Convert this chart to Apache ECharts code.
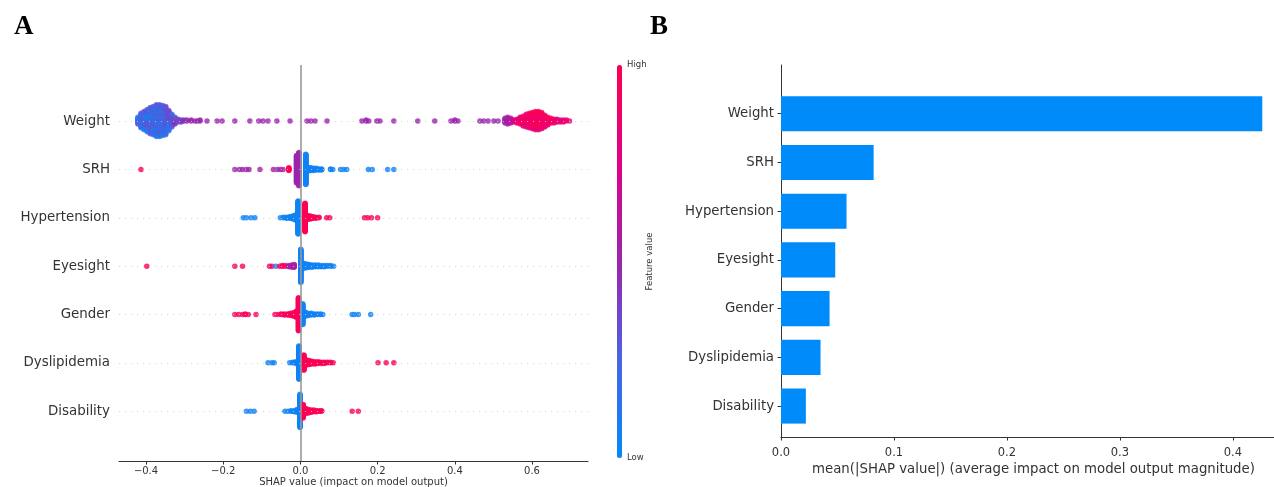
<!DOCTYPE html>
<html>
<head>
<meta charset="utf-8">
<script src="https://cdn.jsdelivr.net/npm/echarts@6/dist/echarts.min.js"></script>
<style>
  html, body { margin: 0; padding: 0; background: #fff; }
  #chart { width: 1274px; height: 487px; }
</style>
</head>
<body>
<div id="chart"></div>
<script>
// features, bottom to top
const features = ['Disability', 'Dyslipidemia', 'Gender', 'Eyesight', 'Hypertension', 'SRH', 'Weight'];
// panel B: mean(|SHAP value|)
const meanAbsShap = [0.022, 0.035, 0.043, 0.048, 0.058, 0.082, 0.426];
const shapTicks = [-0.4, -0.2, 0, 0.2, 0.4, 0.6];
const meanTicks = [0, 0.1, 0.2, 0.3, 0.4];

// panel A beeswarm: [SHAP value, feature value (0 low .. 1 high), number of dots]
const shapWeight = [
  [-0.421, 0.10, 4], [-0.421, 0.30, 4], [-0.413, 0.10, 8], [-0.413, 0.30, 8],
  [-0.405, 0.10, 10], [-0.405, 0.30, 10], [-0.397, 0.10, 12], [-0.397, 0.30, 12],
  [-0.389, 0.10, 14], [-0.389, 0.30, 14], [-0.381, 0.10, 15], [-0.381, 0.30, 15],
  [-0.373, 0.10, 17], [-0.373, 0.30, 17], [-0.365, 0.10, 17], [-0.365, 0.30, 17],
  [-0.357, 0.10, 16], [-0.357, 0.30, 16], [-0.349, 0.15, 15], [-0.349, 0.35, 15],
  [-0.341, 0.15, 11], [-0.341, 0.35, 11], [-0.333, 0.20, 7], [-0.333, 0.40, 7],
  [-0.325, 0.30, 4], [-0.325, 0.45, 4], [-0.317, 0.35, 4],
  [-0.309, 0.40, 3], [-0.302, 0.45, 2], [-0.294, 0.45, 2], [-0.283, 0.5, 2], [-0.273, 0.5, 1],
  [-0.267, 0.5, 1], [-0.260, 0.5, 2], [-0.242, 0.5, 1], [-0.216, 0.5, 1], [-0.203, 0.5, 1],
  [-0.170, 0.5, 1], [-0.131, 0.5, 1], [-0.108, 0.5, 1], [-0.097, 0.5, 1], [-0.084, 0.5, 1],
  [-0.061, 0.5, 1], [-0.027, 0.5, 1], [0.017, 0.5, 1], [0.027, 0.5, 1], [0.038, 0.5, 1],
  [0.069, 0.5, 1], [0.159, 0.5, 1], [0.170, 0.5, 2], [0.177, 0.5, 1], [0.198, 0.5, 1],
  [0.206, 0.5, 1], [0.242, 0.5, 1], [0.304, 0.5, 1], [0.348, 0.5, 1], [0.390, 0.5, 1],
  [0.400, 0.5, 2], [0.408, 0.5, 1], [0.465, 0.5, 1], [0.475, 0.5, 1], [0.486, 0.5, 1],
  [0.501, 0.5, 1], [0.512, 0.5, 1],
  [0.530, 0.50, 6], [0.537, 0.55, 8], [0.545, 0.60, 6], [0.553, 0.70, 3],
  [0.561, 0.75, 3], [0.561, 0.92, 2], [0.569, 0.78, 4], [0.569, 0.95, 4],
  [0.577, 0.80, 6], [0.577, 0.95, 5], [0.585, 0.80, 7], [0.585, 0.97, 7],
  [0.593, 0.82, 8], [0.593, 0.97, 8], [0.601, 0.82, 9], [0.601, 1.0, 9],
  [0.609, 0.82, 10], [0.609, 1.0, 10], [0.617, 0.82, 10], [0.617, 1.0, 10],
  [0.625, 0.82, 9], [0.625, 1.0, 9], [0.633, 0.82, 7], [0.633, 1.0, 6],
  [0.641, 0.82, 5], [0.641, 1.0, 4], [0.649, 0.82, 3], [0.649, 1.0, 3],
  [0.657, 0.82, 3], [0.657, 1.0, 2], [0.665, 0.82, 4], [0.673, 0.82, 3],
  [0.681, 0.85, 3], [0.689, 0.85, 2], [0.697, 0.85, 1]
];
const shapSRH = [
  [-0.413, 0.95, 1],
  [-0.170, 0.5, 1], [-0.158, 0.5, 1], [-0.150, 0.5, 1], [-0.140, 0.5, 1], [-0.133, 0.55, 1], [-0.105, 0.55, 1],
  [-0.070, 0.55, 1], [-0.060, 0.5, 1], [-0.052, 0.5, 1], [-0.045, 0.6, 1],
  [-0.030, 1.0, 6],
  [-0.010, 0.5, 50], [-0.004, 0.5, 60],
  [0.014, 0.05, 55],
  [0.020, 0.05, 8], [0.027, 0.05, 6], [0.034, 0.05, 5], [0.041, 0.05, 4], [0.048, 0.05, 3], [0.055, 0.05, 3],
  [0.078, 0.05, 2], [0.084, 0.05, 1], [0.104, 0.05, 1], [0.112, 0.05, 1], [0.120, 0.05, 1],
  [0.176, 0.05, 1], [0.186, 0.05, 1], [0.226, 0.05, 1], [0.242, 0.05, 1]
];
const shapHypertension = [
  [-0.148, 0.05, 1], [-0.140, 0.05, 1], [-0.128, 0.05, 1], [-0.118, 0.05, 1],
  [-0.052, 0.05, 1], [-0.044, 0.05, 2], [-0.036, 0.05, 3], [-0.028, 0.05, 4], [-0.020, 0.05, 6], [-0.013, 0.05, 10],
  [-0.006, 0.05, 60],
  [0.012, 0.98, 52],
  [0.019, 0.98, 8], [0.026, 0.98, 6], [0.033, 0.98, 4], [0.040, 0.98, 3], [0.048, 0.98, 2],
  [0.068, 0.98, 1], [0.076, 0.98, 1],
  [0.166, 0.98, 1], [0.174, 0.98, 1], [0.184, 0.98, 1], [0.200, 0.98, 1]
];
const shapEyesight = [
  [-0.398, 1.0, 1],
  [-0.170, 0.95, 1], [-0.150, 0.95, 1],
  [-0.080, 0.95, 1], [-0.074, 0.9, 1], [-0.064, 0.1, 1],
  [-0.054, 0.95, 1], [-0.047, 0.95, 2], [-0.040, 0.95, 2],
  [-0.030, 0.55, 3], [-0.022, 0.55, 5], [-0.016, 0.55, 6],
  [0.001, 0.05, 60],
  [0.008, 0.05, 10], [0.015, 0.05, 8], [0.022, 0.05, 6], [0.030, 0.05, 5], [0.038, 0.05, 4],
  [0.046, 0.05, 4], [0.054, 0.05, 3], [0.062, 0.05, 3], [0.070, 0.05, 2], [0.078, 0.05, 2], [0.086, 0.05, 1]
];
const shapGender = [
  [-0.170, 0.95, 1], [-0.160, 0.95, 1], [-0.150, 0.95, 1], [-0.143, 0.95, 2], [-0.135, 0.95, 1], [-0.115, 0.95, 1],
  [-0.066, 0.95, 1], [-0.058, 0.95, 1], [-0.050, 0.95, 2], [-0.042, 0.95, 3], [-0.034, 0.95, 3],
  [-0.026, 0.95, 5], [-0.018, 0.95, 7], [-0.011, 0.95, 12],
  [-0.005, 0.95, 60],
  [0.006, 0.05, 38],
  [0.013, 0.05, 8], [0.020, 0.05, 5], [0.028, 0.05, 4], [0.036, 0.05, 3], [0.044, 0.05, 2], [0.052, 0.05, 2], [0.058, 0.05, 1],
  [0.134, 0.05, 1], [0.140, 0.05, 1], [0.150, 0.05, 1], [0.182, 0.05, 1]
];
const shapDyslipidemia = [
  [-0.084, 0.05, 1], [-0.074, 0.05, 1], [-0.068, 0.05, 1],
  [-0.028, 0.05, 1], [-0.020, 0.05, 2], [-0.012, 0.05, 4],
  [-0.004, 0.05, 60],
  [0.009, 0.98, 28],
  [0.016, 0.98, 10], [0.023, 0.98, 8], [0.030, 0.98, 6], [0.038, 0.98, 5], [0.046, 0.98, 4],
  [0.054, 0.98, 3], [0.062, 0.98, 3], [0.070, 0.98, 2], [0.078, 0.98, 2], [0.085, 0.98, 1],
  [0.201, 0.98, 1], [0.222, 0.98, 1], [0.242, 0.98, 1]
];
const shapDisability = [
  [-0.140, 0.05, 1], [-0.130, 0.05, 1], [-0.120, 0.05, 1],
  [-0.040, 0.05, 1], [-0.032, 0.05, 1], [-0.024, 0.05, 2], [-0.016, 0.05, 3], [-0.009, 0.05, 6],
  [-0.001, 0.05, 60],
  [0.007, 0.98, 25],
  [0.014, 0.98, 10], [0.021, 0.98, 7], [0.028, 0.98, 5], [0.035, 0.98, 4], [0.042, 0.98, 3],
  [0.049, 0.98, 2], [0.055, 0.98, 2],
  [0.134, 0.98, 1], [0.150, 0.98, 1]
];
const swarmRows = [shapDisability, shapDyslipidemia, shapGender, shapEyesight, shapHypertension, shapSRH, shapWeight];

const font = 'DejaVu Sans';
const axisColor = '#333333';

// stack dots sharing a SHAP value up and down around the row line (like shap's beeswarm)
function beeswarm(groups, row) {
  const stacks = new Map();
  groups.forEach(([v, f, n]) => {
    const key = v.toFixed(4);
    if (!stacks.has(key)) stacks.set(key, []);
    for (let k = 0; k < n; k++) stacks.get(key).push([v, f]);
  });
  let maxLayer = 0;
  const pts = [];
  stacks.forEach(list => {
    // mix colours inside one stack
    const order = list.map((p, k) => [(k * 7) % 11, k, p])
      .sort((a, b) => a[0] - b[0] || a[1] - b[1])
      .map(d => d[2]);
    order.forEach((p, layer) => {
      const off = Math.ceil(layer / 2) * (layer % 2 ? 1 : -1);
      maxLayer = Math.max(maxLayer, off);
      pts.push([p[0], off, p[1]]);
    });
  });
  const scale = 0.9 * 0.4 / (maxLayer + 1);
  return pts.map(([v, off, f]) => [v, row + off * scale, f]);
}

const swarmData = [];
swarmRows.forEach((g, i) => beeswarm(g, i).forEach(p => swarmData.push(p)));

const fmtMinus = v => (v < 0 ? '\u2212' : '') + Math.abs(v).toFixed(1);

const chart = echarts.init(document.getElementById('chart'), null, { renderer: 'canvas' });
chart.setOption({
  animation: false,
  backgroundColor: '#fff',
  title: [
    { text: 'A', left: 9, top: 9, textStyle: { fontFamily: 'Liberation Serif', fontWeight: 'bold', fontSize: 27, color: '#000' } },
    { text: 'B', left: 645, top: 9, textStyle: { fontFamily: 'Liberation Serif', fontWeight: 'bold', fontSize: 27, color: '#000' } }
  ],
  grid: [
    { left: 119, top: 65, width: 469, height: 396, outerBoundsMode: 'none' },
    { left: 781, top: 65, width: 505, height: 372, outerBoundsMode: 'none' },
    { left: 617, top: 65, width: 5, height: 393, outerBoundsMode: 'none' }
  ],
  xAxis: [
    {
      gridIndex: 0, type: 'value', min: -0.470, max: 0.745,
      name: 'SHAP value (impact on model output)', nameLocation: 'middle', nameGap: 16, nameMoveOverlap: false,
      nameTextStyle: { fontFamily: font, fontSize: 10, color: axisColor },
      axisLine: { onZero: false, lineStyle: { color: axisColor, width: 1 } },
      axisTick: { customValues: shapTicks, length: 3.5, lineStyle: { color: axisColor } },
      axisLabel: { customValues: shapTicks, formatter: fmtMinus, fontFamily: font, fontSize: 10, color: axisColor, margin: 5 },
      splitLine: { show: false }
    },
    {
      gridIndex: 1, type: 'value', min: 0, max: 0.447,
      name: 'mean(|SHAP value|) (average impact on model output magnitude)', nameLocation: 'middle', nameGap: 26, nameMoveOverlap: false,
      nameTextStyle: { fontFamily: font, fontSize: 13.3, color: axisColor },
      axisLine: { onZero: false, lineStyle: { color: axisColor, width: 1 } },
      axisTick: { customValues: meanTicks, length: 3.5, lineStyle: { color: axisColor } },
      axisLabel: { customValues: meanTicks, formatter: v => v.toFixed(1), fontFamily: font, fontSize: 11.5, color: axisColor, margin: 10 },
      splitLine: { show: false }
    },
    { gridIndex: 2, type: 'value', min: 0, max: 1, show: false }
  ],
  yAxis: [
    {
      gridIndex: 0, type: 'value', min: -1.03, max: 7.16,
      axisLine: { show: false }, axisTick: { show: false }, splitLine: { show: false },
      axisLabel: {
        customValues: [0, 1, 2, 3, 4, 5, 6], formatter: v => features[Math.round(v)],
        fontFamily: font, fontSize: 13.4, color: axisColor, margin: 9
      }
    },
    {
      gridIndex: 1, type: 'value', min: -0.635, max: 7,
      axisLine: { onZero: false, lineStyle: { color: axisColor, width: 1 } },
      axisTick: { customValues: [0, 1, 2, 3, 4, 5, 6], length: 3.5, lineStyle: { color: axisColor } },
      splitLine: { show: false },
      axisLabel: {
        customValues: [0, 1, 2, 3, 4, 5, 6], formatter: v => features[Math.round(v)],
        fontFamily: font, fontSize: 13.3, color: axisColor, margin: 7
      }
    },
    {
      gridIndex: 2, type: 'value', min: 0, max: 1, position: 'right',
      axisLine: { show: false }, axisTick: { show: false }, splitLine: { show: false },
      axisLabel: { customValues: [0, 1], formatter: v => (v >= 1 ? 'High' : 'Low'), fontFamily: font, fontSize: 8.5, color: axisColor, margin: 5 },
      name: 'Feature value', nameLocation: 'middle', nameRotate: 90, nameGap: 23, nameMoveOverlap: false,
      nameTextStyle: { fontFamily: font, fontSize: 8.5, color: axisColor }
    }
  ],
  visualMap: {
    type: 'continuous', seriesIndex: 1, dimension: 2, min: 0, max: 1,
    calculable: false, orient: 'vertical', left: 617, top: 65, padding: 0,
    itemWidth: 5, itemHeight: 393,
    inRange: { color: ['#008afb', '#4b63e3', '#9a25ae', '#e00086', '#ff0051'] }
  },
  series: [
    {
      // guide lines behind the dots
      type: 'scatter', xAxisIndex: 0, yAxisIndex: 0, data: [], z: 1, silent: true,
      markLine: {
        silent: true, symbol: ['none', 'none'], label: { show: false },
        data: features.map((_, i) => ({ yAxis: i, lineStyle: { color: '#cccccc', width: 0.8, type: [1, 5] } }))
          .concat([{ xAxis: 0, lineStyle: { color: '#999999', width: 1.6, type: 'solid' } }])
      }
    },
    {
      name: 'SHAP', type: 'scatter', xAxisIndex: 0, yAxisIndex: 0, z: 2,
      symbolSize: 5.5, data: swarmData, silent: true
    },
    {
      name: 'mean |SHAP|', type: 'custom', xAxisIndex: 1, yAxisIndex: 1, silent: true,
      data: meanAbsShap.map((v, i) => [v, i]),
      encode: { x: 0, y: 1 },
      renderItem: (params, api) => {
        const start = api.coord([0, api.value(1)]);
        const end = api.coord([api.value(0), api.value(1)]);
        const h = api.size([0, 0.72])[1];
        return { type: 'rect', shape: { x: start[0], y: start[1] - h / 2, width: end[0] - start[0], height: h }, style: { fill: '#008bfb' } };
      }
    },
    { type: 'scatter', xAxisIndex: 2, yAxisIndex: 2, data: [] }
  ]
});
window.addEventListener('resize', () => chart.resize());
</script>
</body>
</html>
